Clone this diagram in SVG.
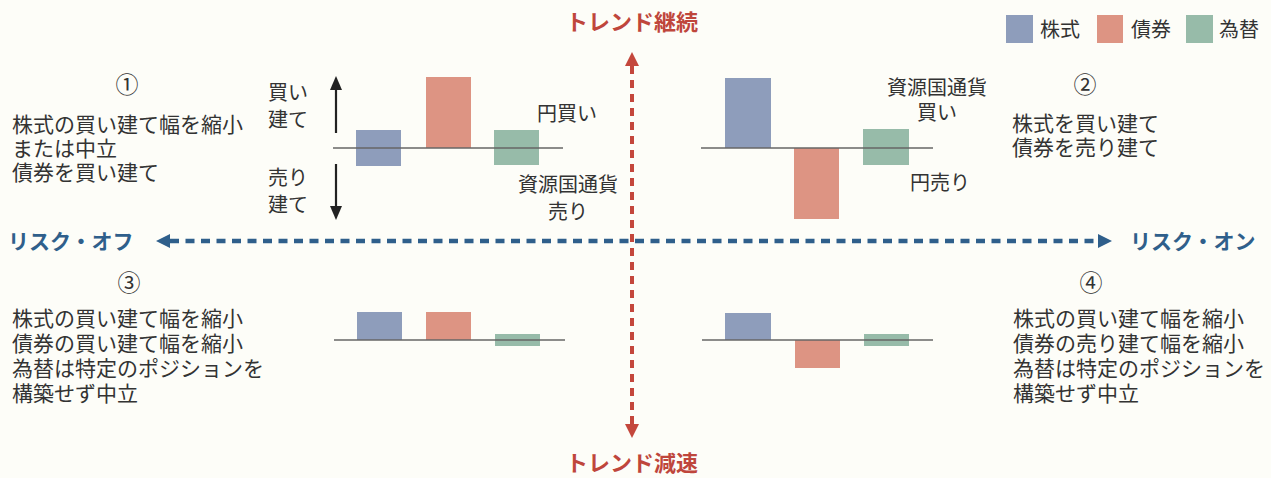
<svg xmlns="http://www.w3.org/2000/svg" width="1271" height="478" viewBox="0 0 1271 478">
<defs>
<style>
.t{font-family:"Noto Sans CJK JP","Noto Sans",sans-serif;fill:#333;font-size:21px}
.s{font-family:"Noto Sans CJK JP","Noto Sans",sans-serif;fill:#333;font-size:20px}
.n{font-family:"Noto Sans CJK JP","Noto Sans",sans-serif;fill:#333;font-size:23px}
.m{text-anchor:middle}
.red{font-family:"Noto Sans CJK JP",sans-serif;fill:#bf463c;font-size:22px;font-weight:bold}
.blu{font-family:"Noto Sans CJK JP",sans-serif;fill:#2f5f8b;font-size:21px;font-weight:bold}
.bs{fill:#8e9dbb}.bb{fill:#dd9483}.bf{fill:#97bba9}
.base{stroke:#666;stroke-width:1.5}
.ar{stroke:#222;stroke-width:2.2}
</style>
</defs>
<rect width="1271" height="478" fill="#fdfdf8"/>

<g id="connectors">
<line x1="632" y1="66" x2="632" y2="424" stroke="#c4473c" stroke-width="4" stroke-dasharray="8,6"/>
<polygon points="632,52 625,66 639,66" fill="#c4473c"/>
<polygon points="632,438 625,424 639,424" fill="#c4473c"/>
<line x1="170" y1="241" x2="1098" y2="241" stroke="#2f5f8b" stroke-width="4.5" stroke-dasharray="9,6.5"/>
<polygon points="156,241 170,234 170,248" fill="#2f5f8b"/>
<polygon points="1112,241 1098,234 1098,248" fill="#2f5f8b"/>
</g>

<g id="title-top"><text class="red m" x="632" y="30">トレンド継続</text></g>
<g id="title-bottom"><text class="red m" x="632" y="471">トレンド減速</text></g>
<g id="risk-off"><text class="blu" x="8" y="249">リスク・オフ</text></g>
<g id="risk-on"><text class="blu" x="1130" y="249">リスク・オン</text></g>

<g id="legend">
<rect class="bs" x="1006" y="15" width="27" height="28"/>
<text class="s" x="1040" y="37">株式</text>
<rect class="bb" x="1097" y="15" width="26" height="28"/>
<text class="s" x="1131" y="37">債券</text>
<rect class="bf" x="1186" y="15" width="27" height="28"/>
<text class="s" x="1219" y="37">為替</text>
</g>

<g id="q1">
<text class="n m" x="127" y="93">①</text>
<text class="t" x="12" y="132">株式の買い建て幅を縮小</text>
<text class="t" x="12" y="156">または中立</text>
<text class="t" x="12" y="180">債券を買い建て</text>
<text class="s" x="268" y="100">買い</text>
<text class="s" x="268" y="127">建て</text>
<text class="s" x="268" y="185">売り</text>
<text class="s" x="268" y="212">建て</text>
<line class="ar" x1="336" y1="133" x2="336" y2="88"/>
<polygon points="336,76 330,90 342,90" fill="#222"/>
<line class="ar" x1="336" y1="164" x2="336" y2="208"/>
<polygon points="336,220 330,206 342,206" fill="#222"/>
<rect class="bs" x="356" y="130" width="45" height="36"/>
<rect class="bb" x="426" y="77" width="45" height="71"/>
<rect class="bf" x="494" y="130" width="45" height="35"/>
<line class="base" x1="333" y1="148" x2="563" y2="148"/>
<text class="s" x="537" y="121">円買い</text>
<text class="s m" x="568" y="192">資源国通貨</text>
<text class="s m" x="568" y="219">売り</text>
</g>

<g id="q2">
<text class="n m" x="1085" y="93">②</text>
<text class="t" x="1012" y="131">株式を買い建て</text>
<text class="t" x="1012" y="155">債券を売り建て</text>
<rect class="bs" x="725" y="78" width="46" height="70"/>
<rect class="bb" x="794" y="148" width="45" height="71"/>
<rect class="bf" x="863" y="129" width="46" height="36"/>
<line class="base" x1="701" y1="148" x2="933" y2="148"/>
<text class="s m" x="937" y="95">資源国通貨</text>
<text class="s m" x="937" y="120">買い</text>
<text class="s" x="910" y="190">円売り</text>
</g>

<g id="q3">
<text class="n m" x="129" y="291">③</text>
<text class="t" x="12" y="326">株式の買い建て幅を縮小</text>
<text class="t" x="12" y="351">債券の買い建て幅を縮小</text>
<text class="t" x="12" y="376">為替は特定のポジションを</text>
<text class="t" x="12" y="401">構築せず中立</text>
<rect class="bs" x="357" y="312" width="45" height="28"/>
<rect class="bb" x="426" y="312" width="45" height="28"/>
<rect class="bf" x="495" y="334" width="45" height="12"/>
<line class="base" x1="334" y1="340" x2="565" y2="340"/>
</g>

<g id="q4">
<text class="n m" x="1091" y="291">④</text>
<text class="t" x="1013" y="326">株式の買い建て幅を縮小</text>
<text class="t" x="1013" y="351">債券の売り建て幅を縮小</text>
<text class="t" x="1013" y="376">為替は特定のポジションを</text>
<text class="t" x="1013" y="401">構築せず中立</text>
<rect class="bs" x="725" y="313" width="46" height="27"/>
<rect class="bb" x="795" y="340" width="45" height="28"/>
<rect class="bf" x="864" y="334" width="45" height="12"/>
<line class="base" x1="702" y1="340" x2="933" y2="340"/>
</g>
</svg>
